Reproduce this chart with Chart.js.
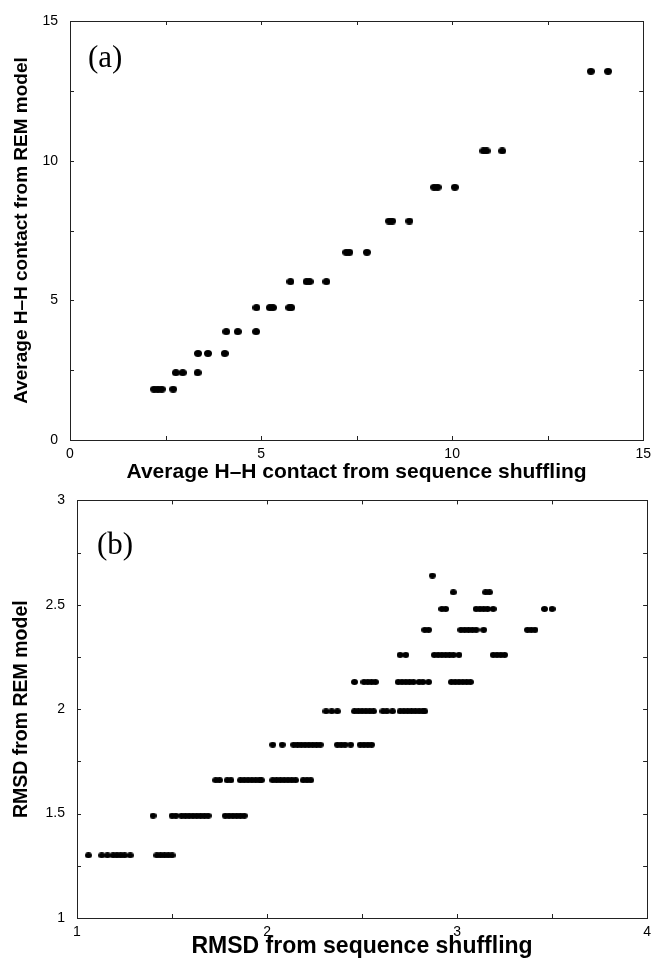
<!DOCTYPE html>
<html>
<head>
<meta charset="utf-8">
<script src="https://cdn.jsdelivr.net/npm/chart.js@4.4.1/dist/chart.umd.min.js"></script>
<style>
	html, body { margin: 0; padding: 0; background: #fff; }
	#wrap { position: relative; width: 657px; height: 958px; overflow: hidden; }
	canvas { position: absolute; left: 0; }
	#chartA { top: 0; }
	#chartB { top: 480px; }
</style>
</head>
<body>
<div id="wrap">
	<canvas id="chartA" width="657" height="488"></canvas>
	<canvas id="chartB" width="657" height="478"></canvas>
</div>
<script>
// (a) H-H contacts: one REM level per row, shuffling values on that row
const contactRemLevels = [1.82, 2.41, 3.10, 3.88, 4.74, 5.67, 6.72, 7.84, 9.05, 10.35, 13.20];
const contactShuffleRows = [
	[2.20, 2.30, 2.40, 2.70],
	[2.77, 2.95, 3.34],
	[3.35, 3.61, 4.05],
	[4.09, 4.39, 4.87],
	[4.88, 5.23, 5.31, 5.74, 5.79],
	[5.77, 6.19, 6.27, 6.71],
	[7.23, 7.31, 7.77],
	[8.35, 8.43, 8.88],
	[9.53, 9.62, 10.07],
	[10.82, 10.90, 11.31],
	[13.63, 14.08]
];
const contactTicks = [0, 5, 10, 15];

// (b) RMSD values
const rmsdRemLevels = [1.30, 1.49, 1.66, 1.83, 1.99, 2.13, 2.26, 2.38, 2.48, 2.56, 2.64];
const rmsdShuffleRows = [
	[1.06, 1.13, 1.16, 1.19, 1.21, 1.23, 1.25, 1.28, 1.42, 1.44, 1.46, 1.48, 1.50],
	[1.40, 1.50, 1.52, 1.55, 1.57, 1.59, 1.61, 1.63, 1.65, 1.67, 1.69, 1.78, 1.80, 1.82, 1.84, 1.86, 1.88],
	[1.73, 1.75, 1.79, 1.81, 1.86, 1.88, 1.90, 1.92, 1.94, 1.96, 1.97, 2.03, 2.05, 2.07, 2.09, 2.11, 2.13, 2.15, 2.19, 2.21, 2.23],
	[2.03, 2.08, 2.14, 2.16, 2.18, 2.20, 2.22, 2.24, 2.26, 2.28, 2.37, 2.39, 2.41, 2.44, 2.49, 2.51, 2.53, 2.55],
	[2.31, 2.34, 2.37, 2.46, 2.48, 2.50, 2.52, 2.54, 2.56, 2.61, 2.63, 2.66, 2.70, 2.72, 2.74, 2.76, 2.78, 2.80, 2.82, 2.83],
	[2.46, 2.51, 2.53, 2.55, 2.57, 2.69, 2.71, 2.73, 2.75, 2.77, 2.80, 2.82, 2.85, 2.97, 2.99, 3.01, 3.03, 3.05, 3.07],
	[2.70, 2.73, 2.88, 2.90, 2.92, 2.94, 2.96, 2.98, 3.01, 3.19, 3.21, 3.23, 3.25],
	[2.83, 2.85, 3.02, 3.04, 3.06, 3.08, 3.10, 3.14, 3.37, 3.39, 3.41],
	[2.92, 2.94, 3.10, 3.12, 3.14, 3.16, 3.19, 3.46, 3.50],
	[2.98, 3.15, 3.17],
	[2.87]
];

const FONT = '"Liberation Sans", Arial, Helvetica, sans-serif';

function rowsToPoints(levels, rows) {
	const pts = [];
	levels.forEach(function(lv, i) {
		rows[i].forEach(function(x) { pts.push({ x: x, y: lv }); });
	});
	return pts;
}

function dotImage(w, h) {
	const c = document.createElement('canvas');
	c.width = w;
	c.height = h;
	const g = c.getContext('2d');
	g.fillStyle = '#000';
	g.beginPath();
	g.ellipse(w / 2, h / 2, w / 2, h / 2, 0, 0, Math.PI * 2);
	g.fill();
	return c;
}

// box round the plot, inward ticks on all four sides, and the panel letter
const framePlugin = {
	id: 'frame',
	afterDraw(chart, args, opts) {
		const ctx = chart.ctx;
		const a = chart.chartArea;
		const sx = chart.scales.x, sy = chart.scales.y;
		const len = 4;
		ctx.save();
		ctx.strokeStyle = '#222';
		ctx.lineWidth = 1;
		ctx.strokeRect(Math.round(a.left) + 0.5, Math.round(a.top) + 0.5, Math.round(a.right - a.left), Math.round(a.bottom - a.top));
		ctx.beginPath();
		sx.ticks.forEach(function(t) {
			const px = Math.round(sx.getPixelForValue(t.value)) + 0.5;
			ctx.moveTo(px, a.bottom); ctx.lineTo(px, a.bottom - len);
			ctx.moveTo(px, a.top); ctx.lineTo(px, a.top + len);
		});
		sy.ticks.forEach(function(t) {
			const py = Math.round(sy.getPixelForValue(t.value)) + 0.5;
			ctx.moveTo(a.left, py); ctx.lineTo(a.left + len, py);
			ctx.moveTo(a.right, py); ctx.lineTo(a.right - len, py);
		});
		ctx.stroke();
		ctx.font = '31px "Liberation Serif", "Times New Roman", serif';
		ctx.fillStyle = '#000';
		ctx.textBaseline = 'middle';
		ctx.fillText(opts.text, sx.getPixelForValue(opts.x), sy.getPixelForValue(opts.y));
		ctx.restore();
	}
};

function makeChart(id, cfg) {
	return new Chart(document.getElementById(id), {
		type: 'scatter',
		data: {
			datasets: [{
				data: cfg.points,
				pointStyle: cfg.dot,
				pointRadius: 3,
				pointHoverRadius: 3,
				backgroundColor: '#000',
				borderWidth: 0
			}]
		},
		options: {
			responsive: false,
			animation: false,
			events: [],
			layout: { padding: cfg.padding },
			plugins: {
				legend: { display: false },
				tooltip: { enabled: false },
				frame: cfg.label
			},
			scales: {
				x: {
					type: 'linear',
					min: cfg.xMin, max: cfg.xMax,
					grid: { display: false, drawTicks: false },
					border: { display: false },
					ticks: {
						stepSize: cfg.xStep,
						autoSkip: false,
						maxRotation: 0,
						padding: 6,
						color: '#000',
						font: { family: FONT, size: 14 },
						callback: cfg.xLabel
					},
					title: {
						display: true,
						text: cfg.xTitle,
						color: '#000',
						font: { family: FONT, size: cfg.xTitleSize, weight: 'bold', lineHeight: 1 },
						padding: { top: 0, bottom: cfg.xTitlePad }
					},
					afterFit: function(s) { s.height = cfg.xAxisHeight; }
				},
				y: {
					type: 'linear',
					min: cfg.yMin, max: cfg.yMax,
					grid: { display: false, drawTicks: false },
					border: { display: false },
					ticks: {
						stepSize: cfg.yStep,
						autoSkip: false,
						padding: 12,
						color: '#000',
						font: { family: FONT, size: 14 },
						callback: cfg.yLabel
					},
					title: {
						display: true,
						text: cfg.yTitle,
						color: '#000',
						font: { family: FONT, size: cfg.yTitleSize, weight: 'bold', lineHeight: 1 },
						padding: { top: 12, bottom: 0 }
					},
					afterFit: function(s) { s.width = cfg.yAxisWidth; }
				}
			}
		},
		plugins: [framePlugin]
	});
}

makeChart('chartA', {
	points: rowsToPoints(contactRemLevels, contactShuffleRows),
	dot: dotImage(8, 7),
	padding: { left: 0, right: 13, top: 21, bottom: 0 },
	xMin: 0, xMax: 15, xStep: 2.5,
	yMin: 0, yMax: 15, yStep: 2.5,
	xLabel: function(v) { return contactTicks.indexOf(v) >= 0 ? v : ''; },
	yLabel: function(v) { return contactTicks.indexOf(v) >= 0 ? v : ''; },
	xTitle: 'Average H\u2013H contact from sequence shuffling',
	yTitle: 'Average H\u2013H contact from REM model',
	xTitleSize: 21,
	yTitleSize: 19,
	xTitlePad: 5,
	xAxisHeight: 48,
	yAxisWidth: 70,
	label: { text: '(a)', x: 0.47, y: 13.65 }
});

makeChart('chartB', {
	points: rowsToPoints(rmsdRemLevels, rmsdShuffleRows),
	dot: dotImage(7, 6),
	padding: { left: 0, right: 8, top: 19, bottom: 0 },
	xMin: 1, xMax: 4, xStep: 0.5,
	yMin: 1, yMax: 3, yStep: 0.25,
	xLabel: function(v) { return Number.isInteger(v) ? v : ''; },
	yLabel: function(v) { return Number.isInteger(v * 2) ? v : ''; },
	xTitle: 'RMSD from sequence shuffling',
	yTitle: 'RMSD from REM model',
	xTitleSize: 23,
	yTitleSize: 19.5,
	xTitlePad: 0,
	xAxisHeight: 40,
	yAxisWidth: 77,
	label: { text: '(b)', x: 1.105, y: 2.78 }
});
</script>
</body>
</html>
